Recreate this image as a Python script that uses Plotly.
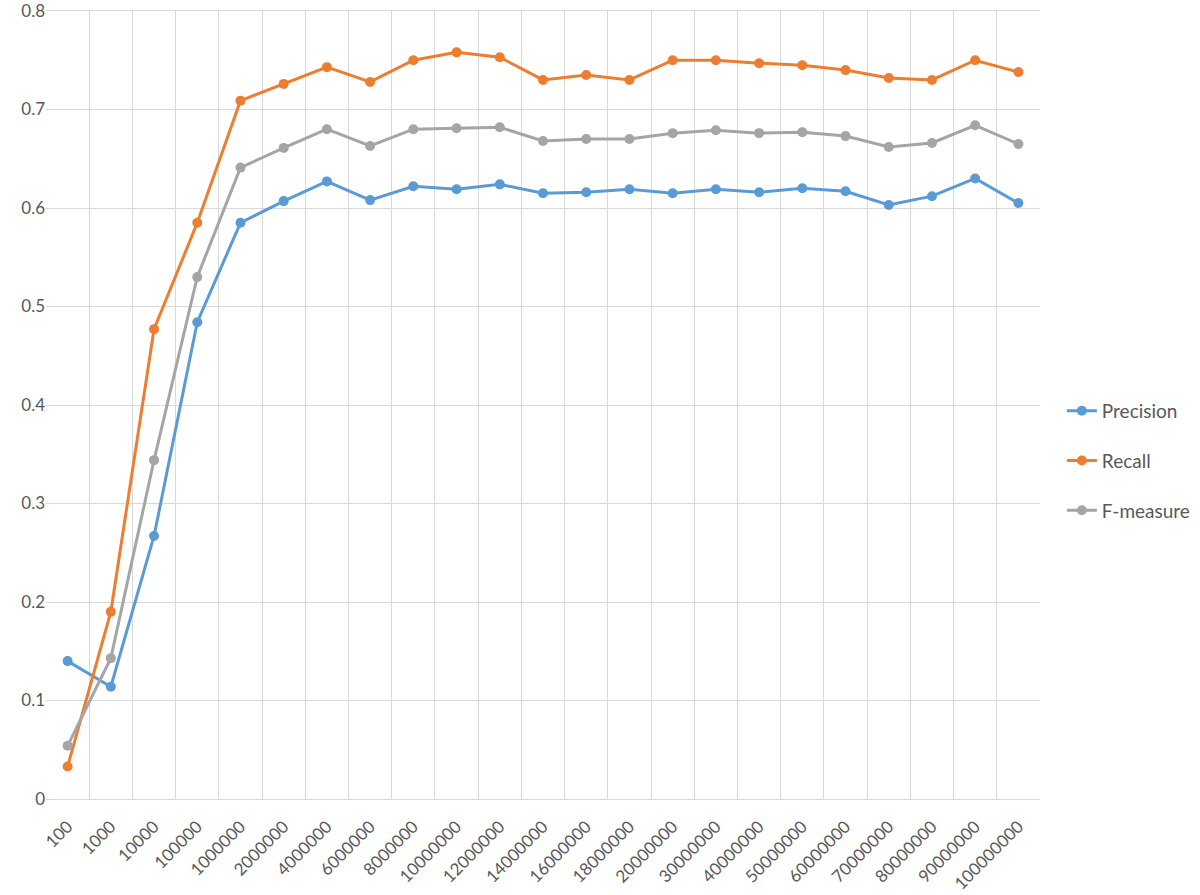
import plotly.graph_objects as go

categories = ["100", "1000", "10000", "100000", "1000000", "2000000", "4000000",
              "6000000", "8000000", "10000000", "12000000", "14000000", "16000000",
              "18000000", "20000000", "30000000", "40000000", "50000000", "60000000",
              "70000000", "80000000", "90000000", "100000000"]

precision = [0.140, 0.114, 0.267, 0.484, 0.585, 0.607, 0.627, 0.608, 0.622, 0.619,
             0.624, 0.615, 0.616, 0.619, 0.615, 0.619, 0.616, 0.620, 0.617, 0.603,
             0.612, 0.630, 0.605]

recall = [0.033, 0.190, 0.477, 0.585, 0.709, 0.726, 0.743, 0.728, 0.750, 0.758,
          0.753, 0.730, 0.735, 0.730, 0.750, 0.750, 0.747, 0.745, 0.740, 0.732,
          0.730, 0.750, 0.738]

f_measure = [0.054, 0.143, 0.344, 0.530, 0.641, 0.661, 0.680, 0.663, 0.680, 0.681,
             0.682, 0.668, 0.670, 0.670, 0.676, 0.679, 0.676, 0.677, 0.673, 0.662,
             0.666, 0.684, 0.665]

series = [
    ("Precision", precision, "#5B9BD5"),
    ("Recall", recall, "#ED7D31"),
    ("F-measure", f_measure, "#A5A5A5"),
]

fig = go.Figure()

for i, (name, values, color) in enumerate(series):
    fig.add_trace(go.Scatter(
        x=categories,
        y=values,
        name=name,
        mode="lines+markers",
        legendgroup=str(i),
        line=dict(color=color, width=3),
        marker=dict(color=color, size=10)
    ))

fig.update_layout(
    width=1200,
    height=895,
    margin=dict(l=46, r=160, t=11, b=96, autoexpand=False),
    paper_bgcolor="white",
    plot_bgcolor="white",
    font=dict(family="Lato, Open Sans, sans-serif", color="#595959", size=16),
    legend=dict(
        x=1.022, y=0.429, xanchor="left", yanchor="middle",
        font=dict(size=19, color="#595959"),
        traceorder="grouped",
        tracegroupgap=22,
        bgcolor="rgba(0,0,0,0)"
    ),
    xaxis=dict(
        type="category",
        range=[-0.5, len(categories) - 0.5],
        tickson="boundaries",
        showgrid=True,
        gridcolor="#D9D9D9",
        gridwidth=1,
        tickangle=-45,
        ticks="",
        showline=True,
        linecolor="#D9D9D9",
        linewidth=1,
        mirror=True,
        automargin=False,
        ticklabelstandoff=10,
        tickfont=dict(size=17, color="#595959")
    ),
    yaxis=dict(
        range=[0, 0.8],
        tickvals=[0, 0.1, 0.2, 0.3, 0.4, 0.5, 0.6, 0.7, 0.8],
        ticktext=["0", "0.1", "0.2", "0.3", "0.4", "0.5", "0.6", "0.7", "0.8"],
        showgrid=True,
        gridcolor="#D9D9D9",
        gridwidth=1,
        zeroline=True,
        zerolinecolor="#D9D9D9",
        zerolinewidth=1,
        ticks="",
        automargin=False,
        ticklabeloverflow="allow",
        tickfont=dict(size=17, color="#595959")
    )
)

# drop the default 8px body margin so the figure sits at the window's corner
fig.write_html(
    "out.html",
    config={"displayModeBar": False},
    post_script="document.body.style.margin = '0';"
)
